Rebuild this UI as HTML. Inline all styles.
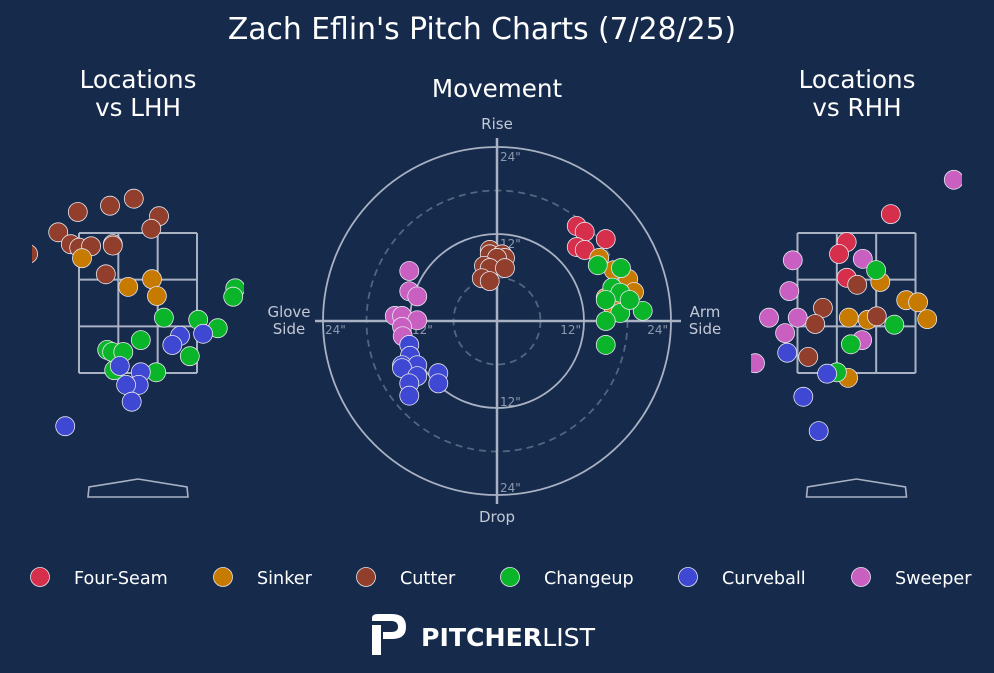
<!DOCTYPE html>
<html><head><meta charset="utf-8">
<style>
html,body{margin:0;padding:0;background:#162a4c;}
svg{display:block;font-family:"DejaVu Sans","Liberation Sans",sans-serif;}
</style></head>
<body>
<svg id="chart" width="994" height="673" viewBox="0 0 994 673" xmlns="http://www.w3.org/2000/svg">
<rect width="994" height="673" fill="#162a4c"/>
<text x="482" y="39" fill="#ffffff" font-size="29.8" text-anchor="middle">Zach Eflin's Pitch Charts (7/28/25)</text>
<text x="138" y="88" fill="#ffffff" font-size="24.6" text-anchor="middle">Locations</text>
<text x="138" y="116" fill="#ffffff" font-size="24.6" text-anchor="middle">vs LHH</text>
<text x="497" y="97" fill="#ffffff" font-size="24.6" text-anchor="middle">Movement</text>
<text x="857" y="88" fill="#ffffff" font-size="24.6" text-anchor="middle">Locations</text>
<text x="857" y="116" fill="#ffffff" font-size="24.6" text-anchor="middle">vs RHH</text>
<defs>
<clipPath id="clipL"><rect x="32" y="140" width="212" height="380"/></clipPath>
<clipPath id="clipR"><rect x="751" y="140" width="211" height="380"/></clipPath>
</defs>
<g id="gL" clip-path="url(#clipL)"></g>
<g id="gM"></g>
<g id="gR" clip-path="url(#clipR)"></g>
<g id="legend"></g>
<g>
<path d="M372 618 Q372 614 378 614 L392 614 Q406 614 406 627 Q406 639 392 639 L383 639 L383 632 L391 632 Q398 632 398 627 Q398 621 391 621 L372 621 Z" fill="#ffffff"/>
<rect x="372" y="625" width="9" height="30" fill="#ffffff"/>
<text x="421" y="646" fill="#ffffff" font-size="25.2" font-weight="bold">PITCHER<tspan font-weight="normal">LIST</tspan></text>
</g>
</svg>
<script>
const pitchTypes=["Four-Seam","Sinker","Cutter","Changeup","Curveball","Sweeper"];
const pitchColors=["#d62f4b","#c77a00","#913f2c","#0ab52a","#3f48d2","#c95fc0"];
// Locations vs LHH (plate x ft, plate z ft)
const lhhType=["Cutter","Cutter","Cutter","Cutter","Cutter","Cutter","Cutter","Cutter","Cutter","Cutter","Cutter","Cutter","Sinker","Sinker","Sinker","Sinker","Changeup","Changeup","Changeup","Changeup","Changeup","Changeup","Changeup","Changeup","Changeup","Changeup","Changeup","Changeup","Curveball","Curveball","Curveball","Curveball","Curveball","Curveball","Curveball","Curveball","Curveball","Cutter"];
const lhhX=[-0.86,-0.40,-0.06,0.30,0.19,-1.14,-0.96,-0.84,-0.67,-0.36,-1.57,-0.46,-0.80,-0.14,0.20,0.27,1.39,1.36,0.37,0.86,1.14,0.74,0.04,-0.44,-0.37,-0.21,-0.34,0.26,0.60,0.49,0.93,-0.26,0.04,0.01,-0.17,-0.09,-1.04,-0.36];
const lhhZ=[3.80,3.89,3.99,3.74,3.56,3.51,3.34,3.29,3.31,3.34,3.20,2.91,3.14,2.73,2.84,2.60,2.71,2.59,2.29,2.26,2.14,1.74,1.97,1.83,1.80,1.80,1.54,1.51,2.03,1.90,2.06,1.60,1.51,1.33,1.33,1.09,0.74,3.32];
// Locations vs RHH
const rhhType=["Sweeper","Sweeper","Sweeper","Sweeper","Sweeper","Sweeper","Sweeper","Sweeper","Sweeper","Four-Seam","Four-Seam","Four-Seam","Four-Seam","Sinker","Sinker","Sinker","Sinker","Sinker","Sinker","Sinker","Cutter","Cutter","Cutter","Cutter","Cutter","Changeup","Changeup","Changeup","Changeup","Curveball","Curveball","Curveball","Curveball"];
const rhhX=[1.39,-0.91,0.09,-0.96,-1.25,-0.84,-1.02,0.08,-1.45,0.49,-0.14,-0.25,-0.14,0.34,0.71,0.88,1.01,-0.11,0.16,-0.12,0.01,-0.48,-0.59,0.29,-0.69,0.28,0.54,-0.08,-0.28,-0.99,-0.42,-0.76,-0.54];
const rhhZ=[4.26,3.11,3.13,2.67,2.29,2.29,2.07,1.97,1.64,3.77,3.37,3.20,2.86,2.80,2.54,2.51,2.27,2.29,2.26,1.43,2.76,2.43,2.20,2.31,1.73,2.97,2.19,1.91,1.51,1.79,1.49,1.16,0.67];
// Movement (horizontal break in, induced vertical break in)
const movType=["Four-Seam","Four-Seam","Four-Seam","Four-Seam","Four-Seam","Cutter","Cutter","Cutter","Cutter","Cutter","Cutter","Cutter","Cutter","Cutter","Cutter","Sweeper","Sweeper","Sweeper","Sweeper","Sweeper","Sweeper","Sweeper","Sweeper","Curveball","Curveball","Curveball","Curveball","Curveball","Curveball","Curveball","Curveball","Curveball","Curveball","Sinker","Sinker","Sinker","Sinker","Sinker","Sinker","Sinker","Changeup","Changeup","Changeup","Changeup","Changeup","Changeup","Changeup","Changeup","Changeup","Changeup"];
const movHB=[11.0,12.1,11.0,12.1,15.0,-1.0,-1.0,0.7,1.1,0,-1.8,-1.0,1.1,-2.1,-1.0,-12.1,-12.1,-11.0,-14.1,-13.1,-11.0,-13.1,-13.0,-12.1,-12.0,-13.1,-11.0,-13.1,-11.0,-12.1,-12.1,-8.1,-8.1,14.1,16.1,18.1,18.9,15.0,15.9,17.0,13.9,17.1,15.9,17.0,15.0,17.0,20.1,15.0,15.0,18.3];
const movIVB=[13.1,12.3,10.2,9.8,11.3,9.8,9.2,9.2,8.7,8.7,7.6,7.3,7.3,5.9,5.5,6.9,4.1,3.4,0.7,0.7,0.1,-0.8,-2.1,-3.3,-4.8,-6.1,-6.1,-6.5,-7.6,-8.6,-10.3,-7.2,-8.6,8.7,7.0,5.8,4.0,3.2,2.2,2.5,7.7,7.3,4.6,3.9,2.9,1.1,1.4,0,-3.3,2.9];
const ringTicks=["12\"","24\""];

const NS="http://www.w3.org/2000/svg";
function mk(tag,attrs,parent){const e=document.createElementNS(NS,tag);for(const k in attrs)e.setAttribute(k,attrs[k]);parent.appendChild(e);return e;}
const PXFT=70;
function colorOf(t){return pitchColors[pitchTypes.indexOf(t)];}

function locPanel(g,cx,types,xs,zs,prefix){
  const sx=x=>cx+x*PXFT, sy=z=>373-(z-1.5)*PXFT;
  const x0=sx(-0.843),x1=sx(0.843),y0=sy(3.5),y1=sy(1.5);
  const grid=[];
  for(let i=0;i<=3;i++){grid.push([x0+(x1-x0)*i/3,y0,x0+(x1-x0)*i/3,y1]);grid.push([x0,y0+(y1-y0)*i/3,x1,y0+(y1-y0)*i/3]);}
  grid.forEach(l=>{const e=mk('line',{x1:l[0],y1:l[1],x2:l[2],y2:l[3],stroke:'#a9b2c3','stroke-width':2},g);
    
    });
  const p=mk('path',{d:`M${cx-50} 497 L${cx-49} 487 L${cx} 479 L${cx+49} 487 L${cx+50} 497 Z`,fill:'none',stroke:'#a9b2c3','stroke-width':1.6},g);
  
  
  for(let i=0;i<xs.length;i++){
    const c=mk('circle',{cx:sx(xs[i]),cy:sy(zs[i]),r:9.5,fill:colorOf(types[i]),stroke:'#e6e6ee','stroke-width':0.8},g);
    
    
  }
}
locPanel(document.getElementById('gL'),138,lhhType,lhhX,lhhZ,'lhh');
locPanel(document.getElementById('gR'),856.5,rhhType,rhhX,rhhZ,'rhh');

// movement
(function(){
  const g=document.getElementById('gM');
  const CX=497,CY=321,PX=87/12;
  const mx=h=>CX+h*PX, my=v=>CY-v*PX;
  [[6,true],[12,false],[18,true],[24,false]].forEach(([r,d])=>{
    const c=mk('circle',{cx:CX,cy:CY,r:r*PX,fill:'none',stroke:d?'#54657f':'#a9b2c3','stroke-width':1.8},g);
    if(d)c.setAttribute('stroke-dasharray','7,5');
    
    
  });
  const a=mk('line',{x1:315,y1:CY,x2:681,y2:CY,stroke:'#a9b2c3','stroke-width':2.5},g);
  
  
  const b=mk('line',{x1:CX,y1:138,x2:CX,y2:504,stroke:'#a9b2c3','stroke-width':2.5},g);
  
  
  const labs=[
    [CX+3,my(24)+14,ringTicks[1],'start'],[CX+3,my(12)+14,ringTicks[0],'start'],
    [CX+3,my(-12)-2,ringTicks[0],'start'],[CX+3,my(-24)-3,ringTicks[1],'start'],
    [mx(12)-3,CY+13,ringTicks[0],'end'],[mx(24)-3,CY+13,ringTicks[1],'end'],
    [mx(-24)+2,CY+13,ringTicks[1],'start'],[mx(-12)+2,CY+13,ringTicks[0],'start']];
  labs.forEach(l=>{const t=mk('text',{x:l[0],y:l[1],fill:'#8d99ad','font-size':12,'text-anchor':l[3]},g);t.textContent=l[2];
    
    });
  const dl=[[497,129,'Rise','middle'],[497,522,'Drop','middle'],[289,317,'Glove','middle'],[289,334,'Side','middle'],[705,317,'Arm','middle'],[705,334,'Side','middle']];
  dl.forEach(l=>{const t=mk('text',{x:l[0],y:l[1],fill:'#c3c9d4','font-size':15,'text-anchor':l[3]},g);t.textContent=l[2];
    
    });
  for(let i=0;i<movHB.length;i++){
    const c=mk('circle',{cx:mx(movHB[i]),cy:my(movIVB[i]),r:9.5,fill:colorOf(movType[i]),stroke:'#e6e6ee','stroke-width':0.8},g);
    
    
  }
})();

// legend
(function(){
  const g=document.getElementById('legend');
  const xs=[40,223,366,510,688,861];
  pitchTypes.forEach((t,i)=>{
    const c=mk('circle',{cx:xs[i],cy:577,r:9.5,fill:pitchColors[i],stroke:'#e6e6ee','stroke-width':0.8},g);
    
    
    const tx=mk('text',{x:xs[i]+34,y:584,fill:'#ffffff','font-size':17.6},g);
    tx.textContent=t;
    
    
  });
})();
</script>
</body></html>
